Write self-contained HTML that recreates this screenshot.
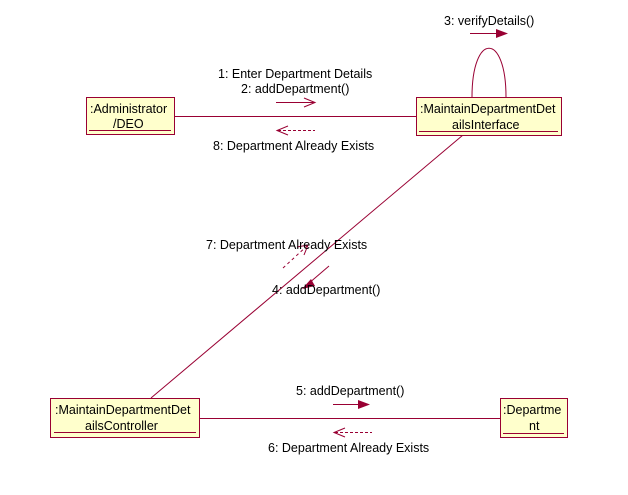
<!DOCTYPE html>
<html><head><style>
body{margin:0;background:#fff;}
svg{display:block;}
text{font-family:"Liberation Sans",Arial,sans-serif;font-size:12.5px;fill:#000;}
</style></head><body>
<svg width="628" height="495" viewBox="0 0 628 495" xmlns="http://www.w3.org/2000/svg">
<g stroke="#990033" fill="none" stroke-width="1">
<line x1="175" y1="116.5" x2="416" y2="116.5"/>
<line x1="199" y1="418.5" x2="500" y2="418.5"/>
<line x1="463" y1="135" x2="151" y2="398"/>
<path d="M472 97 C472 32 506 32 506 97"/>
<line x1="470" y1="33.5" x2="500" y2="33.5"/>
<line x1="276" y1="102.5" x2="315" y2="102.5"/>
<polyline points="304,98 315,102.5 304,107"/>
<line x1="278" y1="130.5" x2="315" y2="130.5" stroke-dasharray="3,2"/>
<polyline points="288,126 277,130.5 288,135"/>
<line x1="333" y1="404.5" x2="362" y2="404.5"/>
<line x1="335" y1="432.5" x2="372" y2="432.5" stroke-dasharray="3,2"/>
<polyline points="345,428 334,432.5 345,437"/>
<line x1="329" y1="266" x2="308" y2="284"/>
<line x1="283" y1="268" x2="308" y2="245" stroke-dasharray="3,3"/>
<polyline points="297,247 308,245 304,255"/>
</g>
<g fill="#990033">
<polygon points="496,29 508,33.5 496,38"/>
<polygon points="358,400 370,404.5 358,409"/>
<polygon points="311,279 302,289 315,286"/>
</g>
<g fill="#ffffcc" stroke="#990033">
<rect x="86.5" y="97.5" width="88" height="37"/>
<rect x="416.5" y="97.5" width="145" height="38"/>
<rect x="50.5" y="398.5" width="149" height="39"/>
<rect x="500.5" y="398.5" width="67" height="39"/>
</g>
<g stroke="#990033">
<line x1="89" y1="130.5" x2="171" y2="130.5"/>
<line x1="419" y1="131.5" x2="558" y2="131.5"/>
<line x1="54" y1="432.5" x2="196" y2="432.5"/>
<line x1="503" y1="433.5" x2="564" y2="433.5"/>
</g>
<text x="90" y="113">:Administrator</text>
<text x="113" y="128">/DEO</text>
<text x="420" y="113">:MaintainDepartmentDet</text>
<text x="452" y="129">ailsInterface</text>
<text x="55" y="414">:MaintainDepartmentDet</text>
<text x="85" y="430">ailsController</text>
<text x="503" y="414">:Departme</text>
<text x="529" y="430">nt</text>
<text x="444" y="25">3: verifyDetails()</text>
<text x="218" y="78">1: Enter Department Details</text>
<text x="241" y="93">2: addDepartment()</text>
<text x="213" y="150">8: Department Already Exists</text>
<text x="206" y="249">7: Department Already Exists</text>
<text x="272" y="294">4: addDepartment()</text>
<text x="296" y="395">5: addDepartment()</text>
<text x="268" y="452">6: Department Already Exists</text>
</svg>
</body></html>
